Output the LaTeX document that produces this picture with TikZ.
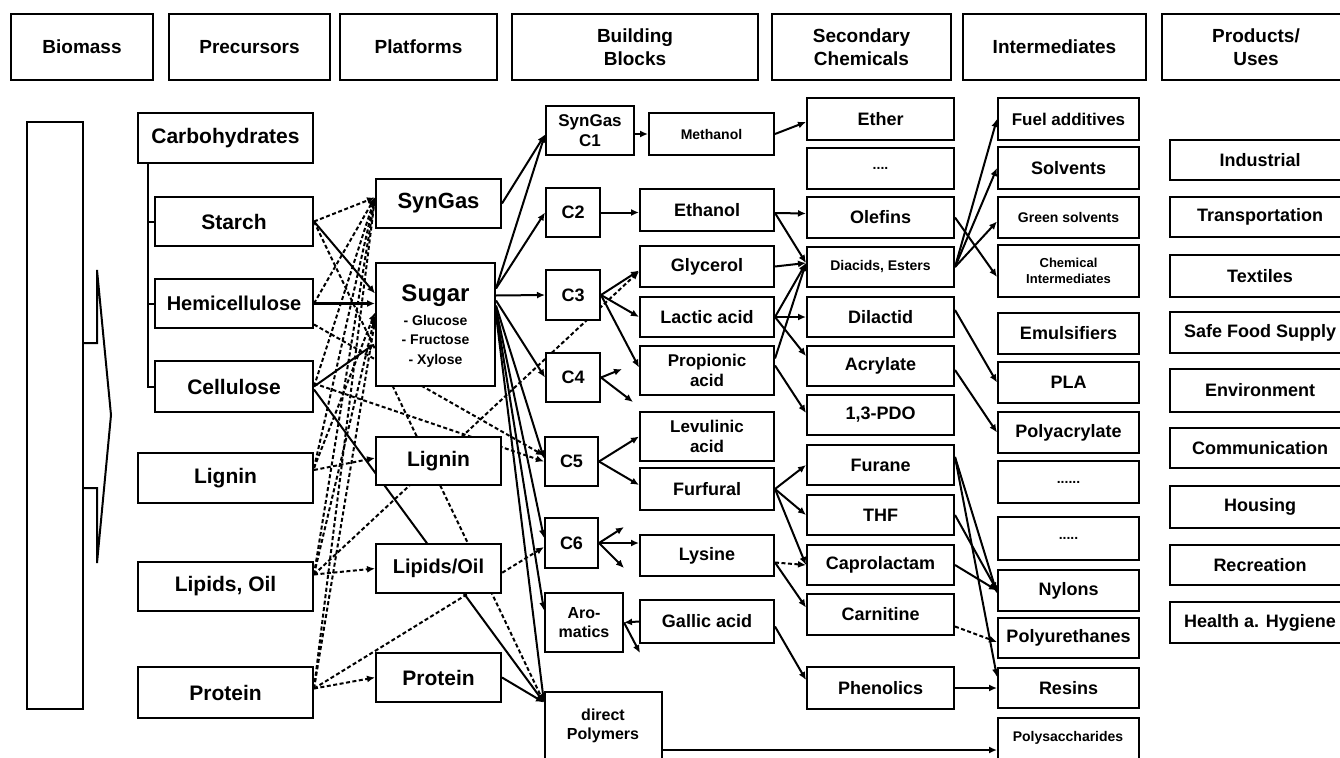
\documentclass[tikz,border=0pt]{standalone}
\usepackage{fontspec}
\setmainfont{Liberation Sans}
\usetikzlibrary{arrows.meta,backgrounds,calc}
\tikzset{
  box/.style={draw,line width=2pt,fill=white,inner sep=0pt,align=center,font=\bfseries},
  hbox/.style={line width=2.6pt},
  ln/.style={line width=2pt},
  ar/.style={ln,-{Latex[length=8pt,width=7pt]}},
  dl/.style={ln,dash pattern=on 4pt off 2.5pt},
  dar/.style={dl,-{Latex[length=8pt,width=7pt]}},
  f13/.style={font=\fontsize{13}{15.5}\selectfont\bfseries},
  f14/.style={font=\fontsize{14}{16.5}\selectfont\bfseries},
  f16/.style={font=\fontsize{16}{19}\selectfont\bfseries},
  f17/.style={font=\fontsize{17}{20}\selectfont\bfseries},
  f18/.style={font=\fontsize{18}{21}\selectfont\bfseries},
  f19/.style={font=\fontsize{19}{23}\selectfont\bfseries},
  f20/.style={font=\fontsize{20}{23}\selectfont\bfseries},
  f21/.style={font=\fontsize{21}{24}\selectfont\bfseries},
  f22/.style={font=\fontsize{22}{25}\selectfont\bfseries},
  txt/.style={inner sep=0pt,align=center}
}
\newcommand{\mkbox}[7][]{\node[box,#1,minimum width={(#5-#3)*1pt},minimum height={(#6-#4)*1pt}] (#2) at ({(#3+#5)/2},{(#4+#6)/2}) {#7};}
\begin{document}
\begin{tikzpicture}[x=1pt,y=-1pt]
\useasboundingbox (0,0) rectangle (1340,757);
\clip (0,0) rectangle (1340,757);
% headers
\mkbox[hbox,f19]{hBio}{11}{14}{153}{80}{Biomass}
\mkbox[hbox,f19]{hPre}{169}{14}{330}{80}{Precursors}
\mkbox[hbox,f19]{hPla}{340}{14}{497}{80}{Platforms}
\mkbox[hbox,f19]{hBB}{512}{14}{758}{80}{Building\\Blocks}
\mkbox[hbox,f19]{hSec}{772}{14}{951}{80}{Secondary\\Chemicals}
\mkbox[hbox,f19]{hInt}{963}{14}{1146}{80}{Intermediates}
\mkbox[hbox,f19]{hPro}{1162}{14}{1350}{80}{Products/\\Uses}
% biomass arrow
\draw[ln] (27,122) rectangle (83,709);
\draw[ln] (83,343) -- (97,343) -- (97,270) -- (111,415) -- (97,563) -- (97,488) -- (83,488);
% precursors
\mkbox[f21]{Carb}{138}{113}{313}{163}{Carbohydrates}
\mkbox[f21]{Starch}{155}{197}{313}{246}{Starch}
\mkbox[f20]{Hemi}{155}{279}{313}{328}{Hemicellulose}
\mkbox[f21]{Cell}{155}{361}{313}{412}{Cellulose}
\mkbox[f21]{LigPre}{138}{453}{313}{503}{Lignin}
\mkbox[f21]{LipPre}{138}{562}{313}{611}{Lipids, Oil}
\mkbox[f21]{ProPre}{138}{667}{313}{718}{Protein}
\coordinate (tr) at (148,163);
\draw[ln] (tr) |- (Cell.west);
\draw[ln] (tr |- Starch.west) -- (Starch.west);
\draw[ln] (tr |- Hemi.west) -- (Hemi.west);
% platforms
\mkbox[f22]{SynGas}{376}{179}{501}{228}{SynGas}
\node[box,minimum width=119pt,minimum height=123pt] (Sugar) at (435.5,324.5) {};
\node[txt,font=\fontsize{24}{26}\selectfont\bfseries] (SugarT) at (435.5,296) {Sugar};
\node[txt,f14] (SugarL) at (435.5,341) {- Glucose\\[3pt]- Fructose\\[3pt]- Xylose};
\mkbox[f21]{LigP}{376}{437}{501}{485}{Lignin}
\mkbox[f20]{LipP}{376}{544}{501}{593}{Lipids/Oil}
\mkbox[f21]{ProP}{376}{653}{501}{702}{Protein}
% building blocks
\mkbox[f17]{C1}{546}{106}{634}{155}{SynGas\\C1}
\mkbox[f18]{C2}{546}{188}{600}{237}{C2}
\mkbox[f18]{C3}{546}{270}{600}{320}{C3}
\mkbox[f18]{C4}{546}{353}{600}{402}{C4}
\mkbox[f18]{C5}{545}{437}{598}{486}{C5}
\mkbox[f18]{C6}{545}{518}{598}{568}{C6}
\mkbox[f16]{Arom}{545}{593}{623}{652}{Aro-\\matics}
\mkbox{dPoly}{545}{692}{662}{775}{}
\node[txt,f16] (dPolyT) at (603,726) {direct\\Polymers};
\mkbox[f14]{Methanol}{649}{113}{774}{155}{Methanol}
\mkbox[f18]{Ethanol}{640}{189}{774}{231}{Ethanol}
\mkbox[f18]{Glycerol}{640}{246}{774}{287}{Glycerol}
\mkbox[f18]{Lactic}{640}{297}{774}{337}{Lactic acid}
\mkbox[f17]{Propionic}{640}{346}{774}{395}{Propionic\\acid}
\mkbox[f17]{Levulinic}{640}{412}{774}{461}{Levulinic\\acid}
\mkbox[f18]{Furfural}{640}{468}{774}{510}{Furfural}
\mkbox[f18]{Lysine}{640}{535}{774}{576}{Lysine}
\mkbox[f18]{Gallic}{640}{600}{774}{643}{Gallic acid}
% secondary chemicals
\mkbox[f18]{Ether}{807}{98}{954}{140}{Ether}
\mkbox[f14]{Dots1}{807}{148}{954}{189}{....}
\mkbox[f18]{Olefins}{807}{197}{954}{238}{Olefins}
\mkbox[f14]{Diacids}{807}{247}{954}{287}{Diacids, Esters}
\mkbox[f18]{Dilactid}{807}{297}{954}{337}{Dilactid}
\mkbox[f18]{Acrylate}{807}{346}{954}{386}{Acrylate}
\mkbox[f18]{PDO}{807}{395}{954}{435}{1,3-PDO}
\mkbox[f18]{Furane}{807}{445}{954}{485}{Furane}
\mkbox[f18]{THF}{807}{495}{954}{535}{THF}
\mkbox[f18]{Caprolactam}{807}{545}{954}{585}{Caprolactam}
\mkbox[f18]{Carnitine}{807}{594}{954}{635}{Carnitine}
\mkbox[f18]{Phenolics}{807}{667}{954}{709}{Phenolics}
% intermediates
\mkbox[f17]{Fuel}{998}{98}{1139}{140}{Fuel additives}
\mkbox[f18]{Solvents}{998}{147}{1139}{189}{Solvents}
\mkbox[f14]{Green}{998}{197}{1139}{238}{Green solvents}
\mkbox[f13]{ChemInt}{998}{245}{1139}{297}{Chemical\\Intermediates}
\mkbox[f18]{Emuls}{998}{313}{1139}{354}{Emulsifiers}
\mkbox[f18]{PLA}{998}{362}{1139}{403}{PLA}
\mkbox[f18]{Polyacr}{998}{412}{1139}{453}{Polyacrylate}
\mkbox[f14]{Dots2}{998}{461}{1139}{503}{......}
\mkbox[f14]{Dots3}{998}{517}{1139}{560}{.....}
\mkbox[f18]{Nylons}{998}{570}{1139}{611}{Nylons}
\mkbox[f18]{Polyur}{998}{618}{1139}{658}{Polyurethanes}
\mkbox[f18]{Resins}{998}{668}{1139}{708}{Resins}
\mkbox{Polys}{998}{718}{1139}{775}{}
\node[txt,f14] (PolysT) at (1068,738) {Polysaccharides};
% products
\mkbox[f18]{Industrial}{1170}{140}{1350}{180}{Industrial}
\mkbox[f18]{Transport}{1170}{197}{1350}{237}{Transportation}
\mkbox[f18]{Textiles}{1170}{255}{1350}{297}{Textiles}
\mkbox[f18]{Food}{1170}{312}{1350}{353}{Safe Food Supply}
\mkbox[f18]{Environment}{1170}{369}{1350}{412}{Environment}
\mkbox[f18]{Communication}{1170}{428}{1350}{468}{Communication}
\mkbox[f18]{Housing}{1170}{486}{1350}{528}{Housing}
\mkbox[f18]{Recreation}{1170}{545}{1350}{585}{Recreation}
\mkbox[f18]{Health}{1170}{602}{1350}{643}{Health a. Hygiene}
% stub coordinates
\coordinate (c4a) at (622,369);
\coordinate (c4b) at (633,402);
\coordinate (c6a) at (624,527);
\coordinate (c6b) at (624,568);
\coordinate (ara) at (640,653);
\begin{pgfonlayer}{background}
\fill[white] (0,0) rectangle (1340,757);
% precursors -> SynGas
\draw[dar] (Starch.east) -- ([yshift=6]SynGas.west);
\draw[dar] (Hemi.east) -- ([yshift=6]SynGas.west);
\draw[dar] (Cell.east) -- ([yshift=6]SynGas.west);
\draw[dar] ([yshift=10]LigPre.east) -- ([yshift=6]SynGas.west);
\draw[dar] ([yshift=12]LipPre.east) -- ([yshift=6]SynGas.west);
\draw[dar] ([yshift=4]ProPre.east) -- ([yshift=6]SynGas.west);
% precursors -> Sugar
\draw[ar] (Starch.east) -- ([yshift=31]Sugar.west);
\draw[ar,line width=3.2pt] (Hemi.east) -- (Hemi.east -| Sugar.west);
\draw[ar] (Cell.east) -- ([yshift=-19]Sugar.west);
\draw[dar] ([yshift=10]LigPre.east) -- ([yshift=12]Sugar.west);
\draw[dar] ([yshift=12]LipPre.east) -- ([yshift=8]Sugar.west);
\draw[dar] ([yshift=4]ProPre.east) -- ([yshift=4]Sugar.west);
% precursors -> other platforms
\draw[dar] ([yshift=8]LigPre.east) -- ([yshift=3]LigP.west);
\draw[dar] ([yshift=12]LipPre.east) -- (LipP.west);
\draw[dar] ([yshift=4]ProPre.east) -- (ProP.west);
% long lines
\draw[dar] (Starch.east) -- ([yshift=31]dPoly.west);
\draw[ar] ([yshift=-3]Cell.east) -- ([yshift=31]dPoly.west);
\draw[dar] ([yshift=-21]Hemi.east) -- ([yshift=6]C5.west);
\draw[dar] ([yshift=3]Cell.east) -- (C5.west);
\draw[dar] ([yshift=12]LipPre.east) -- ([yshift=-5]Glycerol.west);
\draw[dar] ([yshift=4]ProPre.east) -- ([yshift=-4]C6.west);
% platforms -> building blocks
\draw[ar] (SynGas.east) -- ([yshift=-4]C1.west);
\draw[ar] ([yshift=36]Sugar.east) -- ([yshift=-4]C1.west);
\draw[ar] ([yshift=36]Sugar.east) -- (C2.west);
\draw[ar] ([yshift=29]Sugar.east) -- (C3.west);
\draw[ar] ([yshift=24]Sugar.east) -- (C4.west);
\draw[ar] ([yshift=19]Sugar.east) -- ([yshift=3]C5.west);
\draw[ar] ([yshift=16]Sugar.east) -- ([yshift=5]C6.west);
\draw[ar] ([yshift=13]Sugar.east) -- ([yshift=12]Arom.west);
\draw[ar] ([yshift=10]Sugar.east) -- ([yshift=31]dPoly.west);
\draw[ar] (ProP.east) -- ([yshift=31]dPoly.west);
% building blocks -> derived
\draw[ar] (C1.east |- Methanol.west) -- (Methanol.west);
\draw[ar] (C2.east) -- (Ethanol.west |- C2.east);
\draw[ar] (C3.east) -- ([yshift=-4]Glycerol.west);
\draw[ar] (C3.east) -- (Lactic.west);
\draw[ar] (C3.east) -- ([yshift=3]Propionic.west);
\draw[ar] (C4.east) -- (c4a);
\draw[ar] (C4.east) -- (c4b);
\draw[ar] (C5.east) -- (Levulinic.west);
\draw[ar] (C5.east) -- ([yshift=4]Furfural.west);
\draw[ar] (C6.east) -- (Lysine.west |- C6.east);
\draw[ar] (C6.east) -- (c6a);
\draw[ar] (C6.east) -- (c6b);
\draw[ar] (Gallic.west) -- (Arom.east);
\draw[ar] (Arom.east) -- (ara);
% -> secondary chemicals
\draw[ar] (Methanol.east) -- ([yshift=-3]Ether.west);
\draw[ar] ([yshift=-3]Ethanol.east) -- ([yshift=4]Olefins.west);
\draw[ar] ([yshift=-3]Ethanol.east) -- ([yshift=4]Diacids.west);
\draw[ar] (Glycerol.east) -- ([yshift=4]Diacids.west);
\draw[ar] (Lactic.east) -- ([yshift=4]Diacids.west);
\draw[ar] ([yshift=12]Propionic.east) -- ([yshift=4]Diacids.west);
\draw[ar] (Lactic.east) -- (Dilactid.west);
\draw[ar] (Lactic.east) -- ([yshift=10]Acrylate.west);
\draw[ar] ([yshift=5]Propionic.east) -- ([yshift=2]PDO.west);
\draw[ar] (Furfural.east) -- (Furane.west);
\draw[ar] (Furfural.east) -- (THF.west);
\draw[ar] (Furfural.east) -- (Caprolactam.west);
\draw[dar] ([yshift=-7]Lysine.east) -- (Caprolactam.west);
\draw[ar] ([yshift=-7]Lysine.east) -- ([yshift=7]Carnitine.west);
\draw[ar] ([yshift=-5]Gallic.east) -- ([yshift=8]Phenolics.west);
% -> intermediates
\draw[ar] (Olefins.east) -- ([yshift=-6]ChemInt.west);
\draw[ar] (Diacids.east) -- (Fuel.west);
\draw[ar] (Diacids.east) -- (Solvents.west);
\draw[ar] (Diacids.east) -- ([yshift=-4]Green.west);
\draw[ar] ([yshift=7]Dilactid.east) -- (PLA.west);
\draw[ar] ([yshift=-4]Acrylate.east) -- (Polyacr.west);
\draw[ar] ([yshift=8]Furane.east) -- ([yshift=-3]Nylons.west);
\draw[ar] ([yshift=8]Furane.east) -- ([yshift=11]Resins.west);
\draw[ar] (THF.east) -- (Nylons.west);
\draw[ar] (Caprolactam.east) -- (Nylons.west);
\draw[dar] ([yshift=-12]Carnitine.east) -- ([yshift=-4]Polyur.west);
\draw[ar] (Phenolics.east) -- (Resins.west);
\draw[ar] ([yshift=-16.5]dPoly.east) -- ([yshift=-3.5]Polys.west);
\end{pgfonlayer}
\end{tikzpicture}
\end{document}
